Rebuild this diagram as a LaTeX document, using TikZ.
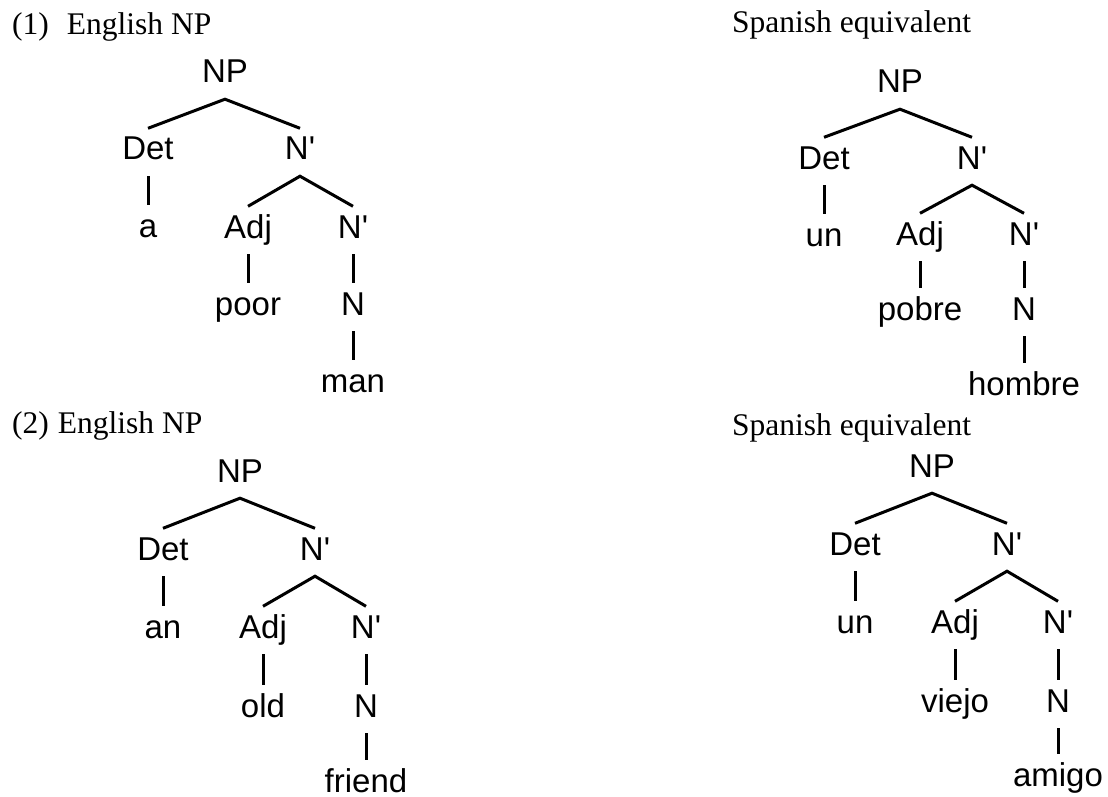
\documentclass[tikz,border=0pt]{standalone}
\usepackage{fontspec}
\usepackage{tikz}
\setmainfont{Liberation Serif}
\newfontfamily\arialfont{Liberation Sans}
\usetikzlibrary{calc}

\begin{document}
\begin{tikzpicture}[x=1pt, y=-1pt,
    cat/.style={font=\arialfont\fontsize{33}{38}\selectfont, text height=23.5pt, text depth=8pt, inner xsep=0pt, inner ysep=8pt, anchor=base},
    head/.style={font=\fontsize{31.5}{36}\selectfont, inner sep=0pt, anchor=base west},
    branch/.style={line width=3pt}]
    \useasboundingbox (0,0) rectangle (1108,797);

    % Headings
    \node[head] (head1) at (12,35) {(1)\hspace{18pt}English NP};
    \node[head] (spanish1) at (732,33) {Spanish equivalent};
    \node[head] (head2) at (12,433) {(2)\hspace{9pt}English NP};
    \node[head] (spanish2) at (732,435) {Spanish equivalent};

    % Tree 1: a poor man
    \node[cat] (np1) at (225,83) {NP};
    \node[cat] (det1) at (148,160) {Det};
    \node[cat] (nbar1) at (300,160) {N'};
    \node[cat] (a1) at (148,237) {a};
    \node[cat] (adj1) at (248,238) {Adj};
    \node[cat] (nbarb1) at (353,238) {N'};
    \node[cat] (poor1) at (248,315) {poor};
    \node[cat] (n1) at (353,315) {N};
    \node[cat] (man1) at (353,392) {man};
    \draw[branch] (det1.north) -- (np1.south) -- (nbar1.north);
    \draw[branch] (det1.south) -- (a1.north);
    \draw[branch] (adj1.north) -- (nbar1.south) -- (nbarb1.north);
    \draw[branch] (adj1.south) -- (poor1.north);
    \draw[branch] (nbarb1.south) -- (n1.north);
    \draw[branch] (n1.south) -- (man1.north);

    % Tree 2: un pobre hombre
    \node[cat] (np2) at (900,93) {NP};
    \node[cat] (det2) at (824,169) {Det};
    \node[cat] (nbar2) at (972,169) {N'};
    \node[cat] (un2) at (824,246) {un};
    \node[cat] (adj2) at (920,245) {Adj};
    \node[cat] (nbarb2) at (1024,245) {N'};
    \node[cat] (pobre2) at (920,320) {pobre};
    \node[cat] (n2) at (1024,320) {N};
    \node[cat] (hombre2) at (1024,395) {hombre};
    \draw[branch] (det2.north) -- (np2.south) -- (nbar2.north);
    \draw[branch] (det2.south) -- (un2.north);
    \draw[branch] (adj2.north) -- (nbar2.south) -- (nbarb2.north);
    \draw[branch] (adj2.south) -- (pobre2.north);
    \draw[branch] (nbarb2.south) -- (n2.north);
    \draw[branch] (n2.south) -- (hombre2.north);

    % Tree 3: an old friend
    \node[cat] (np3) at (240,482) {NP};
    \node[cat] (det3) at (163,560) {Det};
    \node[cat] (nbar3) at (315,560) {N'};
    \node[cat] (an3) at (163,638) {an};
    \node[cat] (adj3) at (263,638) {Adj};
    \node[cat] (nbarb3) at (366,638) {N'};
    \node[cat] (old3) at (263,717) {old};
    \node[cat] (n3) at (366,717) {N};
    \node[cat] (friend3) at (366,792) {friend};
    \draw[branch] (det3.north) -- (np3.south) -- (nbar3.north);
    \draw[branch] (det3.south) -- (an3.north);
    \draw[branch] (adj3.north) -- (nbar3.south) -- (nbarb3.north);
    \draw[branch] (adj3.south) -- (old3.north);
    \draw[branch] (nbarb3.south) -- (n3.north);
    \draw[branch] (n3.south) -- (friend3.north);

    % Tree 4: un viejo amigo
    \node[cat] (np4) at (932,477) {NP};
    \node[cat] (det4) at (855,555) {Det};
    \node[cat] (nbar4) at (1007,555) {N'};
    \node[cat] (un4) at (855,633) {un};
    \node[cat] (adj4) at (955,633) {Adj};
    \node[cat] (nbarb4) at (1058,633) {N'};
    \node[cat] (viejo4) at (955,712) {viejo};
    \node[cat] (n4) at (1058,712) {N};
    \node[cat] (amigo4) at (1058,786) {amigo};
    \draw[branch] (det4.north) -- (np4.south) -- (nbar4.north);
    \draw[branch] (det4.south) -- (un4.north);
    \draw[branch] (adj4.north) -- (nbar4.south) -- (nbarb4.north);
    \draw[branch] (adj4.south) -- (viejo4.north);
    \draw[branch] (nbarb4.south) -- (n4.north);
    \draw[branch] (n4.south) -- (amigo4.north);
\end{tikzpicture}
\end{document}
